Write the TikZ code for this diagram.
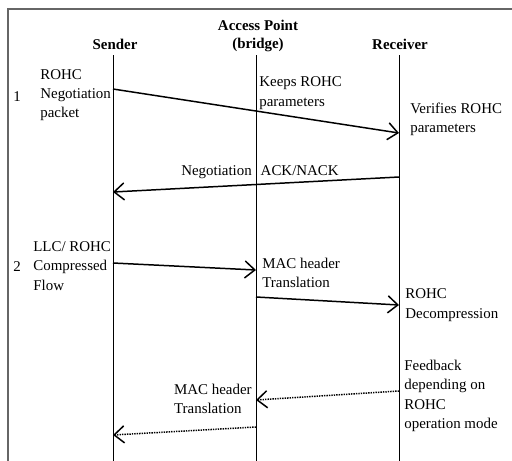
\documentclass[tikz,border=0pt]{standalone}
\usepackage{fontspec}
\setmainfont{Liberation Serif}
\usetikzlibrary{arrows.meta,positioning}

\begin{document}
\begin{tikzpicture}[x=0.02cm,y=-0.02cm,
  every node/.style={font=\fontsize{8.5}{11}\selectfont,inner sep=0pt},
  head/.style={font=\fontsize{8.5}{10.4}\selectfont\bfseries,align=center},
  lbl/.style={align=left,anchor=west},
  life/.style={line width=0.4pt},
  msg/.style={-{Straight Barb[length=2mm,width=3.4mm]},line width=0.85pt},
  fb/.style={msg,dash pattern=on 0.8pt off 0.6pt}]
\useasboundingbox (0,0) rectangle (512,461);
\draw[line width=1.1pt,black!60] (8,461) |- (512,9);
% parties and lifelines
\node[head] (snd) at (115,44) {Sender};
\node[head] (ap) at (258,36) {Access Point\\(bridge)};
\node[head] (rcv) at (400,44) {Receiver};
\foreach \n/\x in {s/113,a/256,r/399}{
  \coordinate (\n top) at (\x,55);
  \coordinate (\n bot) at (\x,461);
  \draw[life] (\n top) -- (\n bot);
}
% step 1: negotiation
\node (one) at (17,97) {1};
\node[lbl] (neg) at (40,95) {ROHC\\Negotiation\\packet};
\node[lbl] (keep) at (259,93) {Keeps ROHC\\parameters};
\node[lbl] (ver) at (410,119) {Verifies ROHC\\parameters};
\coordinate (m1a) at (113,89);
\coordinate (m1b) at (399,133);
\draw[msg] (m1a) -- (m1b);
\node (ack) at (260,172) {Negotiation\hspace{0.6em}ACK/NACK};
\coordinate (m2a) at (399,177);
\coordinate (m2b) at (113,192);
\draw[msg] (m2a) -- (m2b);
% step 2: compressed flow
\node (two) at (17,267) {2};
\node[lbl] (llc) at (33,266) {LLC/ ROHC\\Compressed\\Flow};
\node[lbl] (mac1) at (262,273) {MAC header\\Translation};
\node[lbl] (dec) at (405,305) {ROHC\\Decompression};
\coordinate (m3a) at (113,263);
\coordinate (m3b) at (256,270);
\draw[msg] (m3a) -- (m3b);
\coordinate (m4a) at (256,297);
\coordinate (m4b) at (399,305);
\draw[msg] (m4a) -- (m4b);
% feedback
\node[lbl] (fbk) at (404,396) {Feedback\\depending on\\ROHC\\operation mode};
\node[align=left,anchor=east] (mac2) at (252,399) {MAC header\\Translation};
\coordinate (m5a) at (399,391);
\coordinate (m5b) at (256,400);
\draw[fb] (m5a) -- (m5b);
\coordinate (m6a) at (256,427);
\coordinate (m6b) at (113,435);
\draw[fb] (m6a) -- (m6b);
\end{tikzpicture}
\end{document}
